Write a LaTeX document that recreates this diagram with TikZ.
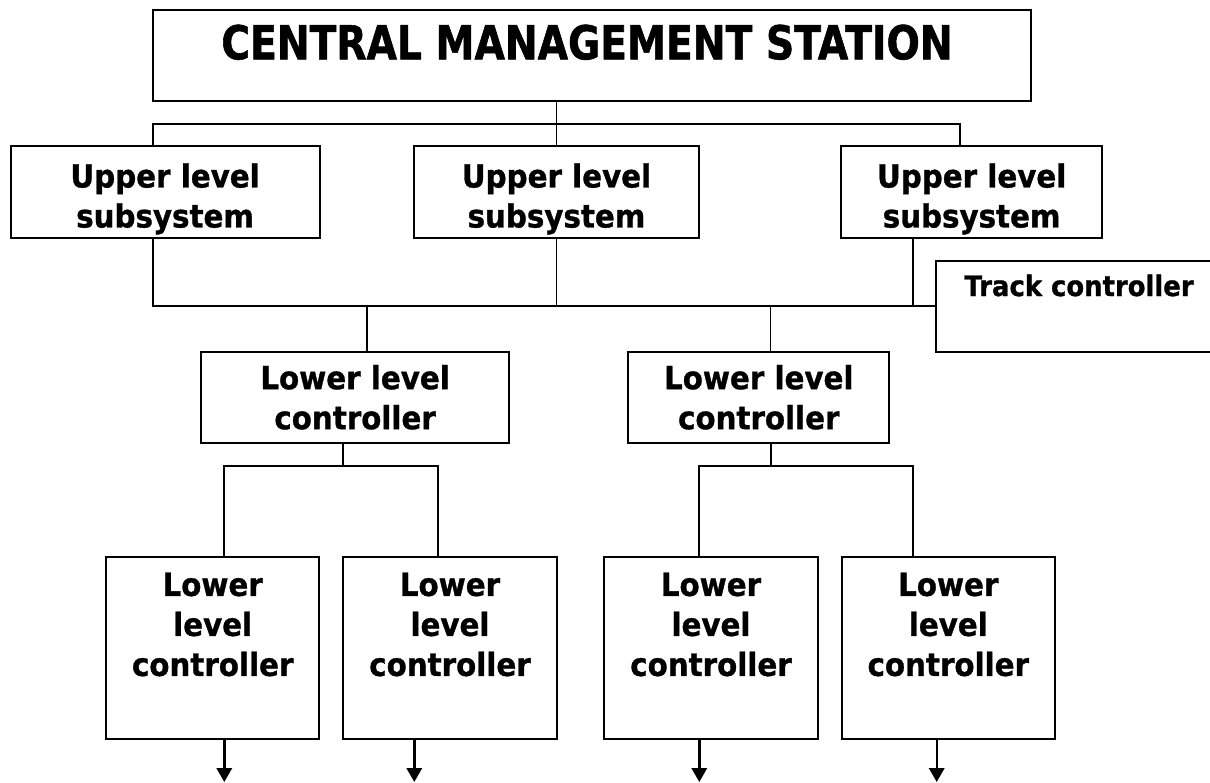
\documentclass[tikz,border=0pt]{standalone}
\usepackage{fontspec}
\setmainfont{DejaVu Sans}[FakeStretch=0.92, BoldFeatures={FakeBold=1}]
\newfontfamily\titlefont{DejaVu Sans}[FakeStretch=0.84, BoldFeatures={FakeBold=1.2}]
\usetikzlibrary{arrows.meta, positioning}

\tikzset{
  blk/.style={draw, line width=1.5pt, inner sep=0pt},
  lbl/.style={inner sep=0pt, align=center, font=\bfseries\fontsize{23.9}{30}\selectfont},
  wire/.style={line width=1.3pt},
}

\begin{document}
\begin{tikzpicture}[x=0.75pt, y=-0.75pt, >={Triangle[width=11.5pt,length=10.5pt]}]
\useasboundingbox (0,0) rectangle (1210,782);
% Central station
\node[blk, minimum width=658.5pt, minimum height=68pt] (cms) at (592,55.35) {};
\node[lbl, font=\titlefont\bfseries\fontsize{35}{42}\selectfont, below=11.5pt of cms.north, xshift=-3.75pt] (cmstxt) {CENTRAL MANAGEMENT STATION};
% Upper level subsystems
\node[blk, minimum width=231.6pt, minimum height=69pt] (ub1) at (165.1,192) {};
\node[blk, minimum width=213.75pt, minimum height=69pt] (ub2) at (556.5,192) {};
\node[blk, minimum width=196pt, minimum height=69pt] (ub3) at (971.65,192) {};
\foreach \i in {1,2,3}
  \node[lbl, below=13.5pt of ub\i.north] (ubt\i) {Upper level\\subsystem};
% Track controller
\node[blk, minimum width=214.5pt, minimum height=68.25pt] (trk) at (1079,306.2) {};
\node[lbl, font=\bfseries\fontsize{21.1}{26}\selectfont, below=11pt of trk.north] (trktxt) {Track controller};
% Lower level controllers
\node[blk, minimum width=231pt, minimum height=68.25pt] (llc1) at (355.1,397.2) {};
\node[blk, minimum width=195.75pt, minimum height=68.25pt] (llc2) at (758.8,397.2) {};
\foreach \i in {1,2}
  \node[lbl, below=10.5pt of llc\i.north] (llct\i) {Lower level\\controller};
% Field level controllers
\foreach \i/\x in {1/212.7, 2/450, 3/711, 4/948.3} {
  \node[blk, minimum width=160pt, minimum height=136.5pt] (leaf\i) at (\x,648) {};
  \node[lbl, below=12.3pt of leaf\i.north] (leaft\i) {Lower\\level\\controller};
}
% Bus joints
\coordinate (tb1) at (153,124.3);
\coordinate (tb3) at (960.3,124.3);
\coordinate (lb1) at (153,306);
\coordinate (k1) at (367,306);
\coordinate (k2) at (770.4,306);
\coordinate (m1) at (343.3,465.7);
\coordinate (m2) at (770.7,465.7);
\coordinate (s1) at (224.3,465.7);
\coordinate (s2) at (438.3,465.7);
\coordinate (s3) at (699.3,465.7);
\coordinate (s4) at (912.7,465.7);
% Connections
\draw[wire] (cms.south -| ub2.north) -- (ub2.north);
\draw[wire] (ub1.north -| tb1) -- (tb1) -- (tb3) -- (ub3.north -| tb3);
\draw[wire] (ub1.south -| lb1) -- (lb1) -- (lb1 -| trk.west);
\draw[wire] (ub2.south) -- (ub2.south |- lb1);
\draw[wire] (ub3.south -| s4) -- (s4 |- lb1);
\draw[wire] (k1) -- (k1 |- llc1.north);
\draw[wire] (k2) -- (k2 |- llc2.north);
\draw[wire] (llc1.south -| m1) -- (m1);
\draw[wire] (llc2.south -| m2) -- (m2);
\draw[wire] (s1 |- leaf1.north) -- (s1) -- (s2) -- (s2 |- leaf2.north);
\draw[wire] (s3 |- leaf3.north) -- (s3) -- (s4) -- (s4 |- leaf4.north);
% Outputs
\foreach \i/\x in {1/224.3, 2/414.3, 3/699.3, 4/936.7} {
  \coordinate (out\i) at (\x,782);
  \draw[->, line width=1.8pt] (leaf\i.south -| out\i) -- (out\i);
}
\end{tikzpicture}
\end{document}
